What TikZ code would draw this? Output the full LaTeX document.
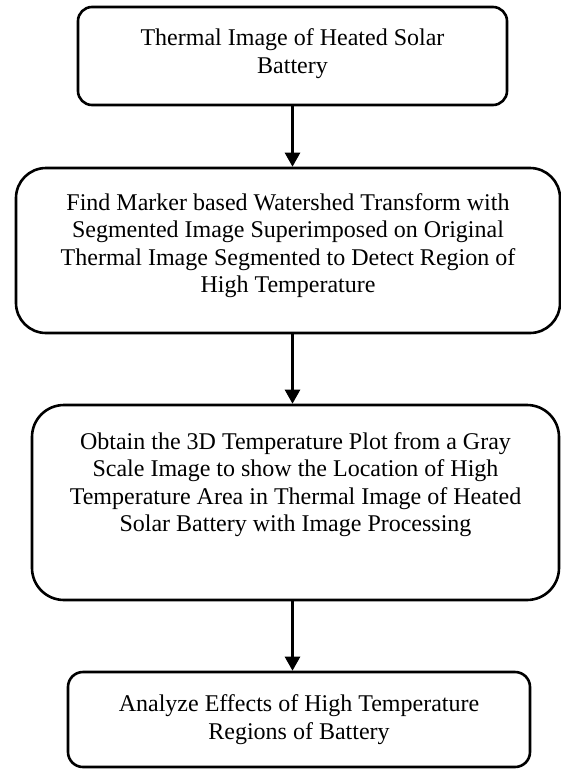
\documentclass[tikz,border=0pt]{standalone}
\usepackage{fontspec}
\setmainfont{Liberation Serif}
\usetikzlibrary{arrows.meta,calc}
\begin{document}
\begin{tikzpicture}[x=1pt,y=-1pt,
  box/.style={draw, line width=2.6pt, rounded corners=#1, inner sep=0pt},
  txt/.style={align=center, inner sep=0pt, font=\fontsize{24}{27.5}\selectfont},
  arr/.style={line width=2.6pt, -{Triangle[length=14pt,width=15pt]}}]
\useasboundingbox (0,0) rectangle (561,769);
\node[box=14pt, minimum width=429pt, minimum height=98pt] (b1) at (292.5,56) {};
\node[txt] (t1) at (292.5,53.5) {Thermal Image of Heated Solar\\Battery};
\node[box=30pt, minimum width=544pt, minimum height=165pt] (b2) at (288,250.5) {};
\node[txt] (t2) at (288,245.5) {Find Marker based Watershed Transform with\\Segmented Image Superimposed on Original\\Thermal Image Segmented to Detect Region of\\High Temperature};
\node[box=32pt, minimum width=527pt, minimum height=195pt] (b3) at (295.5,502.5) {};
\node[txt] (t3) at (295.5,484.5) {Obtain the 3D Temperature Plot from a Gray\\Scale Image to show the Location of High\\Temperature Area in Thermal Image of Heated\\Solar Battery with Image Processing};
\node[box=15pt, minimum width=462pt, minimum height=95pt] (b4) at (299,719.5) {};
\node[txt] (t4) at (299,719.5) {Analyze Effects of High Temperature\\Regions of Battery};
\draw[arr] (b1.south) -- (b1.south |- b2.north);
\draw[arr] (b2.south -| b1.south) -- (b3.north -| b1.south);
\draw[arr] (b3.south -| b1.south) -- (b4.north -| b1.south);
\end{tikzpicture}
\end{document}
